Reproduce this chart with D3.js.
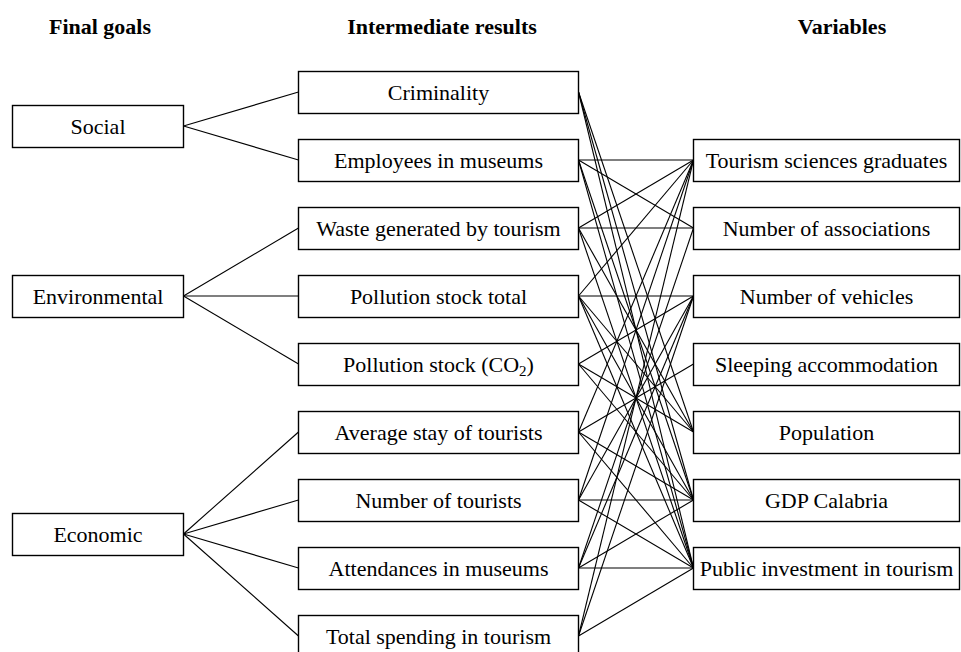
<!DOCTYPE html>
<html>
<head>
<meta charset="utf-8">
<script src="https://cdn.jsdelivr.net/npm/d3@7"></script>
<style>
  body { margin: 0; background: #fff; }
  svg { display: block; }
</style>
</head>
<body>
<div id="app"></div>
<script>
// column headers
const headers = ["Final goals", "Intermediate results", "Variables"];

// final goals and the intermediate rows they feed
const goals = ["Social", "Environmental", "Economic"];
const goalRows = [[0, 1], [2, 3, 4], [5, 6, 7, 8]];

// intermediate results (one per row)
const results = [
  "Criminality", "Employees in museums", "Waste generated by tourism",
  "Pollution stock total", "Pollution stock (CO2)", "Average stay of tourists",
  "Number of tourists", "Attendances in museums", "Total spending in tourism"
];

// variables and the row each sits on
const variables = [
  "Tourism sciences graduates", "Number of associations", "Number of vehicles",
  "Sleeping accommodation", "Population", "GDP Calabria", "Public investment in tourism"
];
const variableRows = [1, 2, 3, 4, 5, 6, 7];

// links: result index -> variable index
const resultLinks = [
  [0, 4], [0, 5], [0, 6],
  [1, 0], [1, 1], [1, 5], [1, 6],
  [2, 0], [2, 1], [2, 4], [2, 6],
  [3, 0], [3, 2], [3, 4], [3, 5], [3, 6],
  [4, 2], [4, 4], [4, 5],
  [5, 0], [5, 3], [5, 5], [5, 6],
  [6, 0], [6, 2], [6, 5], [6, 6],
  [7, 1], [7, 2], [7, 5], [7, 6],
  [8, 0], [8, 2], [8, 6]
];

const width = 961;
const height = 652;
const boxH = 42;
const fontFamily = "'Liberation Serif', 'Times New Roman', Times, serif";

const y = d3.scaleLinear().domain([0, 8]).range([92, 636]);
const col = {
  goal: {x0: 12.5, x1: 183.5, hx: 100},
  result: {x0: 298.5, x1: 578.5, hx: 442},
  variable: {x0: 693.5, x1: 959.5, hx: 842}
};

const svg = d3.select("#app")
  .append("svg")
  .attr("width", width)
  .attr("height", height)
  .attr("font-family", fontFamily);

// headers
svg.append("g")
  .selectAll("text")
  .data(headers)
  .join("text")
  .attr("x", (d, i) => [col.goal.hx, col.result.hx, col.variable.hx][i])
  .attr("y", 34)
  .attr("text-anchor", "middle")
  .attr("font-family", fontFamily)
  .attr("font-weight", "bold")
  .attr("font-size", 22)
  .text(d => d);

const goalY = goalRows.map(rows => d3.mean(rows, r => y(r)));

// links goal -> result
let linkG = svg.append("g")
  .attr("stroke", "#000")
  .attr("stroke-width", 1.1)
  .attr("fill", "none");

let goalLinks = [];
goalRows.forEach((rows, g) => rows.forEach(r => goalLinks.push([g, r])));

linkG.selectAll(".glink")
  .data(goalLinks)
  .join("line")
  .attr("class", "glink")
  .attr("x1", col.goal.x1)
  .attr("y1", d => goalY[d[0]])
  .attr("x2", col.result.x0)
  .attr("y2", d => y(d[1]));

// links result -> variable
linkG.selectAll(".vlink")
  .data(resultLinks)
  .join("line")
  .attr("class", "vlink")
  .attr("x1", col.result.x1)
  .attr("y1", d => y(d[0]))
  .attr("x2", col.variable.x0)
  .attr("y2", d => y(variableRows[d[1]]));

function drawBoxes(cls, items, c, cy) {
  let g = svg.append("g")
    .selectAll("g." + cls)
    .data(items)
    .join("g")
    .attr("class", cls);
  g.append("rect")
    .attr("x", c.x0)
    .attr("y", (d, i) => Math.round(cy(i) - boxH / 2) + 0.5)
    .attr("width", c.x1 - c.x0)
    .attr("height", boxH)
    .attr("fill", "#fff")
    .attr("stroke", "#000")
    .attr("stroke-width", 1.4);
  g.append("text")
    .attr("x", (c.x0 + c.x1) / 2)
    .attr("y", (d, i) => cy(i) + 7.5)
    .attr("text-anchor", "middle")
    .attr("font-family", fontFamily)
    .attr("font-size", 22)
    .each(function(d) {
      let t = d3.select(this);
      let m = d.match(/^(.*CO)2(\))$/);
      if (m) {
        t.append("tspan").text(m[1]);
        t.append("tspan").attr("font-size", 15).attr("dy", 4).text("2");
        t.append("tspan").attr("dy", -4).text(m[2]);
      } else {
        t.text(d);
      }
    });
}

drawBoxes("goal", goals, col.goal, i => goalY[i]);
drawBoxes("result", results, col.result, i => y(i));
drawBoxes("variable", variables, col.variable, i => y(variableRows[i]));
</script>
</body>
</html>
